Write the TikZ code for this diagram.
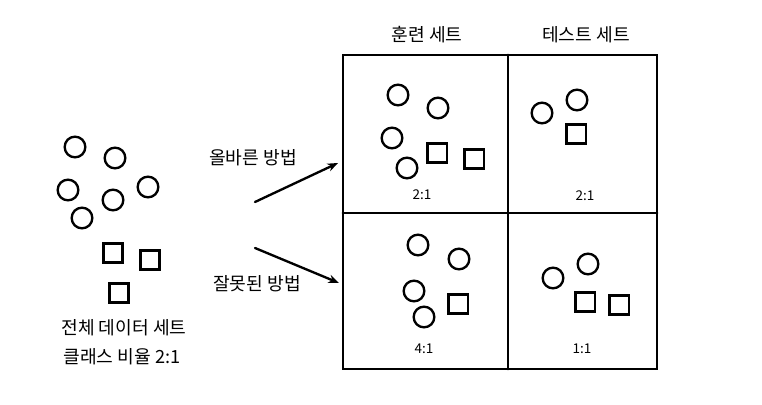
\documentclass[tikz,border=0pt]{standalone}
\usepackage{fontspec}
\newfontfamily\kr{Noto Sans CJK KR}
\usetikzlibrary{arrows.meta}
\begin{document}
\begin{tikzpicture}[x=0.03cm,y=-0.03cm,line width=2pt,line cap=round,
  ball/.style={draw,circle,inner sep=0pt,minimum size=0.62cm},
  box/.style={draw,rectangle,inner sep=0pt,minimum size=0.58cm},
  lbl/.style={font=\kr\fontsize{15.5}{18}\selectfont,align=center},
  ratio/.style={font=\kr\fontsize{11.5}{13}\selectfont}]
\useasboundingbox (0,0) rectangle (762,405);

% whole data set
\foreach \x/\y [count=\i] in {75/147,115/158,68/190,113/200,148/187,82/218}{
\node[ball] (all\i) at (\x,\y) {};
}
\foreach \x/\y [count=\i] in {113/253,150/260,119/293}{
\node[box] (allsq\i) at (\x,\y) {};
}
\node[lbl] (whole) at (124,328) {전체 데이터 세트};
\node[lbl] (ratio) at (122,357) {클래스 비율 2:1};

% grid
\draw[line width=2.4pt] (343,55) rectangle (657,369);
\draw[line width=2.4pt] (508,55)--(508,369);
\draw[line width=2.4pt] (343,213)--(657,213);
\node[lbl] (train) at (427,35) {훈련 세트};
\node[lbl] (test) at (586,35) {테스트 세트};

% right way
\foreach \x/\y [count=\i] in {398/95,438/108,392/138,407/168}{
\node[ball] (rtr\i) at (\x,\y) {};
}
\node[box] (rtrsq1) at (437,153) {};
\node[box] (rtrsq2) at (474,159) {};
\node[ratio] (rtrr) at (422,195) {2:1};
\node[ball] (rte1) at (542,113) {};
\node[ball] (rte2) at (577,100) {};
\node[box] (rtesq1) at (576,134) {};
\node[ratio] (rter) at (585,196) {2:1};

% wrong way
\foreach \x/\y [count=\i] in {418/245,459/259,414/291,424/317}{
\node[ball] (wtr\i) at (\x,\y) {};
}
\node[box] (wtrsq1) at (458,304) {};
\node[ratio] (wtrr) at (424,349) {4:1};
\node[ball] (wte1) at (553,278) {};
\node[ball] (wte2) at (588,264) {};
\node[box] (wtesq1) at (585,302) {};
\node[box] (wtesq2) at (619,305) {};
\node[ratio] (wter) at (582,349) {1:1};

% arrows
\coordinate (rs) at (255,202);
\coordinate (re) at (338,163);
\coordinate (ws) at (255,248);
\coordinate (we) at (339,283);
\draw[-{Stealth[length=9pt,width=7pt]}] (rs)--(re);
\draw[-{Stealth[length=9pt,width=7pt]}] (ws)--(we);
\node[lbl] (right) at (253,158) {올바른 방법};
\node[lbl] (wrong) at (257,284) {잘못된 방법};
\end{tikzpicture}
\end{document}
